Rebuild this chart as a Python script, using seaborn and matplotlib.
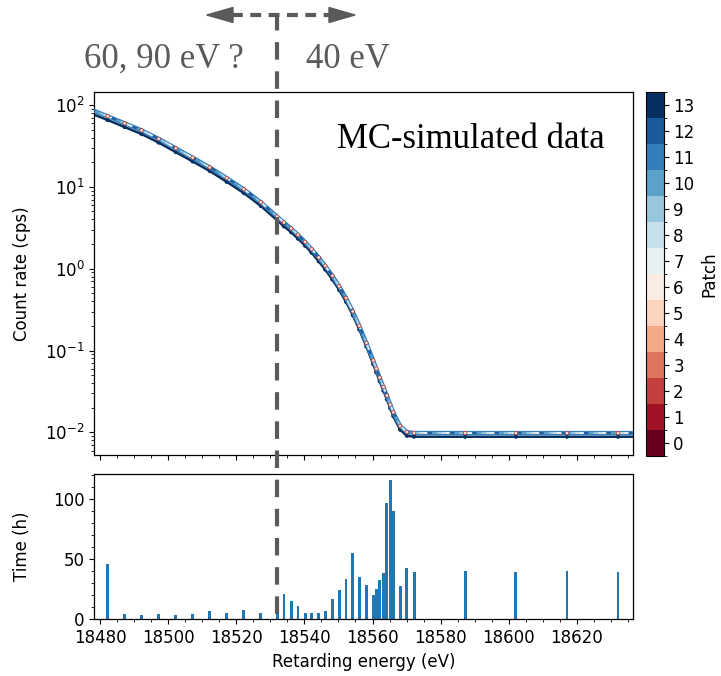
import numpy as np
import matplotlib
matplotlib.use("Agg")
import matplotlib.pyplot as plt
import seaborn as sns
import pandas as pd
from matplotlib.colors import ListedColormap, BoundaryNorm
from matplotlib.cm import ScalarMappable
from matplotlib.lines import Line2D
from matplotlib.patches import Polygon
from matplotlib.ticker import MultipleLocator
import matplotlib.transforms as mtransforms

# ---------------- data ----------------
# retarding energies of the measurement points (eV)
meas_energy = [18482.2, 18487.2, 18492.2, 18497.2, 18502.2, 18507.2, 18512.2, 18517.2,
               18522.2, 18527.2, 18532.0, 18534.0, 18536.1, 18538.1, 18540.2, 18542.1,
               18544.2, 18546.1, 18548.2, 18550.2, 18552.2, 18554.2, 18556.1, 18558.2,
               18560.2, 18561.1, 18562.1, 18563.2, 18564.2, 18565.2, 18566.1, 18568.1,
               18570.1, 18572.2, 18587.2, 18602.1, 18617.1, 18632.1]
# measurement time per point (h)
time_h = [45.8, 4.2, 3.5, 4.2, 3.5, 4.2, 7.2, 5.0, 8.0, 5.0, 5.0, 20.8, 15.5, 11.4,
          5.0, 5.0, 5.0, 7.0, 17.0, 24.5, 33.6, 54.7, 35.5, 28.3, 20.2, 25.0, 32.8,
          38.6, 96.6, 115.5, 90.2, 27.7, 42.2, 39.4, 40.2, 39.4, 40.2, 39.4]

# curve energies: measurement points plus the plot edges
curve_energy = [18476.0] + meas_energy + [18640.0]
# upper (patch 0-12) count-rate curve (cps)
rate_upper = [92.5, 72.8, 59.8, 49.0, 38.6, 29.6, 22.7, 17.3, 12.8, 9.35, 6.49, 4.33,
              3.66, 3.10, 2.59, 2.12, 1.74, 1.37, 1.086, 0.820, 0.611, 0.439, 0.301,
              0.201, 0.124, 0.0757, 0.0603, 0.0468, 0.0359, 0.0282, 0.0219, 0.0176,
              0.0120, 0.0101, 0.00986, 0.00984, 0.00984, 0.00984, 0.00984, 0.00984]
# lower (patch 13) count-rate curve (cps)
rate_lower = [83.2, 65.5, 53.8, 44.1, 34.7, 26.6, 20.4, 15.6, 11.5, 8.4, 5.84, 3.90,
              3.29, 2.79, 2.33, 1.91, 1.57, 1.23, 0.977, 0.738, 0.550, 0.395, 0.271,
              0.181, 0.112, 0.0681, 0.0543, 0.0421, 0.0323, 0.0254, 0.0197, 0.0158,
              0.0108, 0.0091, 0.00887, 0.00886, 0.00886, 0.00886, 0.00886, 0.00886]

patches = list(range(14))

# ---------------- style ----------------
sns.set_style("ticks")
plt.rcParams['font.family'] = ['DejaVu Sans']
plt.rcParams.update({
    'axes.edgecolor': 'black', 'text.color': 'black', 'axes.labelcolor': 'black',
    'xtick.color': 'black', 'ytick.color': 'black',
    'xtick.labelsize': 12, 'ytick.labelsize': 12, 'axes.labelsize': 12,
    'axes.linewidth': 0.9,
})

W, H = 721, 676
fig = plt.figure(figsize=(W / 100, H / 100), dpi=100)

def fx(px):
    return px / W

def fy(py):
    return 1 - py / H

ax = fig.add_axes([fx(94.3), fy(455), fx(632.7) - fx(94.3), fy(92) - fy(455)])
axb = fig.add_axes([fx(94.3), fy(619.3), fx(632.7) - fx(94.3), fy(473.5) - fy(619.3)], sharex=ax)
cax = fig.add_axes([fx(646), fy(455.7), fx(663.5) - fx(646), fy(91.7) - fy(455.7)])

cmap = plt.get_cmap('RdBu', 14)
cols = [cmap(i) for i in patches]

df_up = pd.DataFrame({"E": curve_energy, "rate": rate_upper})
df_lo = pd.DataFrame({"E": curve_energy, "rate": rate_lower})
df_mu = pd.DataFrame({"E": meas_energy, "rate": rate_upper[1:-1]})
df_ml = pd.DataFrame({"E": meas_energy, "rate": rate_lower[1:-1]})

# lower curve (patch 13)
sns.lineplot(data=df_lo, x="E", y="rate", ax=ax, color=cols[13], lw=1.8,
             sort=False, estimator=None, zorder=2)
sns.scatterplot(data=df_ml, x="E", y="rate", ax=ax, color=cols[13], s=9,
                edgecolor='none', zorder=2)

# upper curve (patches 0-12)
sns.lineplot(data=df_up, x="E", y="rate", ax=ax, color=cols[11], lw=3.0,
             sort=False, estimator=None, zorder=3)
sns.lineplot(data=df_up, x="E", y="rate", ax=ax, color=cols[12], lw=1.2,
             sort=False, estimator=None, zorder=3)
for k, i in enumerate(range(7, 11)):
    ax.plot(curve_energy, rate_upper, color=cols[i], lw=1.4,
            linestyle=(k * 2.2, (2.5, 9.0)), zorder=4)
for k, i in enumerate([1, 3, 5, 6]):
    sns.scatterplot(data=df_mu, x="E", y="rate", ax=ax, color=cols[i],
                    s=[9, 6, 3.5, 1.5][k], edgecolor='none', zorder=5 + k)

ax.set_yscale('log')
ax.set_ylim(5.3e-3, 144)
ax.set_xlim(18478.3, 18636.4)
ax.set_ylabel('Count rate (cps)')
ax.set_xlabel('')
plt.setp(ax.get_xticklabels(), visible=False)

# time histogram
half = 0.42
edges = []
for e in meas_energy:
    edges += [e - half, e + half]
sns.histplot(x=meas_energy, weights=time_h, bins=edges, ax=axb, color='#1f77b4',
             alpha=1, linewidth=0)
axb.set_ylim(0, 121)
axb.set_ylabel('Time (h)')
axb.set_xlabel('Retarding energy (eV)')
axb.yaxis.set_major_locator(MultipleLocator(50))
axb.yaxis.set_minor_locator(MultipleLocator(10))
axb.xaxis.set_major_locator(MultipleLocator(20))
axb.xaxis.set_minor_locator(MultipleLocator(5))
axb.set_xlim(18478.3, 18636.4)

ax.yaxis.set_label_coords(-0.118, 0.5)
axb.yaxis.set_label_coords(-0.118, 0.5)

# colorbar
norm = BoundaryNorm(np.arange(-0.5, 14.5, 1), 14)
sm = ScalarMappable(norm=norm, cmap=ListedColormap(cols))
cb = fig.colorbar(sm, cax=cax, ticks=patches)
cb.ax.tick_params(labelsize=12)
cb.set_label('Patch', fontsize=12)
cb.outline.set_linewidth(0.8)

# vertical dashed marker line across the figure
gray = '#5a5a5a'
tr = mtransforms.blended_transform_factory(axb.transData, fig.transFigure)
fig.add_artist(Line2D([18532.0, 18532.0], [fy(13), fy(619)], transform=tr,
                      color=gray, lw=3, dashes=(4.2, 2.8), zorder=10))
# double arrow at top
fig.add_artist(Line2D([fx(232), fx(330)], [fy(15), fy(15)], color=gray, lw=3,
                      dashes=(2.6, 1.8), zorder=10))
fig.add_artist(Polygon([[fx(206.7), fy(15)], [fx(233), fy(7.5)], [fx(233), fy(22.5)]],
                       closed=True, color=gray, transform=fig.transFigure))
fig.add_artist(Polygon([[fx(355), fy(15)], [fx(329), fy(7.5)], [fx(329), fy(22.5)]],
                       closed=True, color=gray, transform=fig.transFigure))

serif = ['Liberation Serif', 'DejaVu Serif']
fig.text(fx(84), fy(68), '60, 90 eV ?', family=serif, fontsize=25, color=gray,
         va='baseline', ha='left')
fig.text(fx(306), fy(68), '40 eV', family=serif, fontsize=25, color=gray,
         va='baseline', ha='left')
fig.text(fx(337), fy(148), 'MC-simulated data', family=serif, fontsize=25,
         color='black', va='baseline', ha='left')

fig.savefig('out.png', dpi=100)
